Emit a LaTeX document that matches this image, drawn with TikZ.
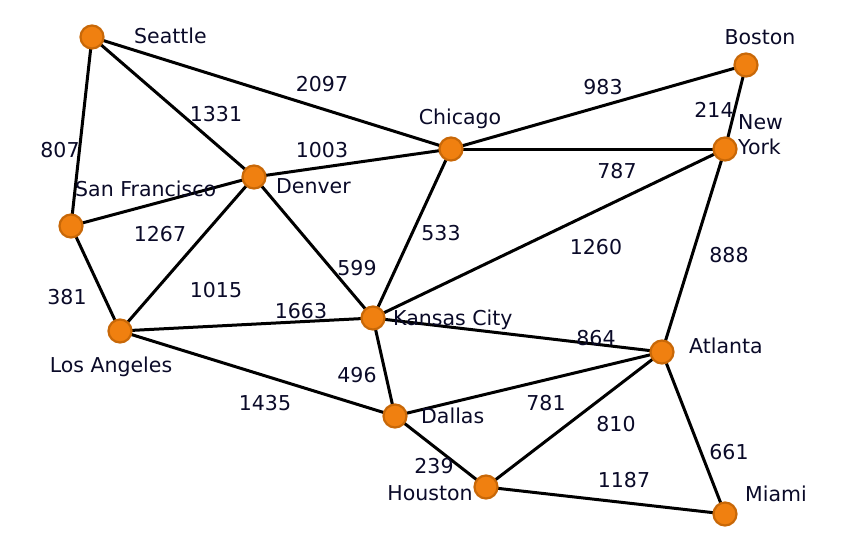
\documentclass[tikz,border=0pt]{standalone}
\usepackage{fontspec}
\setmainfont{DejaVu Sans}
\definecolor{cityfill}{HTML}{F08010}
\definecolor{cityline}{HTML}{C86808}
\definecolor{txt}{HTML}{0A0A28}
\begin{document}
\begin{tikzpicture}[x=1pt,y=-1pt,
  city/.style={circle,fill=cityfill,draw=cityline,line width=2.2pt,minimum size=23pt,inner sep=0pt},
  road/.style={line width=3pt,black},
  lbl/.style={text=txt,font=\fontsize{20.5}{25}\selectfont,inner sep=0pt},
  wt/.style={text=txt,font=\fontsize{20.5}{25}\selectfont,inner sep=0pt}]
\useasboundingbox (0,0) rectangle (847,547);
% city positions
\foreach \n/\x/\y in {sea/92/37,bos/746/65,chi/451/149,ny/725/149,den/254/177,sf/71/226,la/120/331,kc/373/318,atl/662/352,dal/395/416,hou/486/487,mia/725/514}
  \coordinate (\n) at (\x,\y);
% roads
\foreach \a/\b in {sea/sf,sea/den,sea/chi,sf/den,sf/la,la/den,la/kc,la/dal,den/chi,den/kc,chi/kc,chi/bos,chi/ny,bos/ny,ny/kc,ny/atl,kc/atl,kc/dal,dal/atl,dal/hou,hou/atl,hou/mia,atl/mia}
  \draw[road] (\a) -- (\b);
% cities on top
\foreach \n in {sea,bos,chi,ny,den,sf,la,kc,atl,dal,hou,mia}
  \node[city] (\n c) at (\n) {};
% city labels
\node[lbl,anchor=west] (tsea) at (134,36) {Seattle};
\node[lbl] (tbos) at (760,37) {Boston};
\node[lbl] (tchi) at (460,119) {Chicago};
\node[lbl,anchor=west,align=left] (tny) at (738,135) {New\\York};
\node[lbl,anchor=west] (tden) at (276,186) {Denver};
\node[lbl,anchor=west] (tsf) at (75,189) {San Francisco};
\node[lbl] (tla) at (111,367) {Los Angeles};
\node[lbl,anchor=west] (tkc) at (393,320) {Kansas City};
\node[lbl,anchor=west] (tatl) at (689,346) {Atlanta};
\node[lbl,anchor=west] (tdal) at (421,416) {Dallas};
\node[lbl] (thou) at (430,493) {Houston};
\node[lbl,anchor=west] (tmia) at (745,494) {Miami};
% weights
\node[wt] (w1) at (60,150) {807};
\node[wt] (w2) at (216,114) {1331};
\node[wt] (w3) at (322,84) {2097};
\node[wt] (w4) at (603,87) {983};
\node[wt] (w5) at (714,110) {214};
\node[wt] (w6) at (322,150) {1003};
\node[wt] (w7) at (617,171) {787};
\node[wt] (w8) at (160,234) {1267};
\node[wt] (w9) at (441,233) {533};
\node[wt] (w10) at (596,247) {1260};
\node[wt] (w11) at (729,255) {888};
\node[wt] (w12) at (67,297) {381};
\node[wt] (w13) at (216,290) {1015};
\node[wt] (w14) at (357,268) {599};
\node[wt] (w15) at (301,311) {1663};
\node[wt] (w16) at (596,338) {864};
\node[wt] (w17) at (357,375) {496};
\node[wt] (w18) at (265,403) {1435};
\node[wt] (w19) at (546,403) {781};
\node[wt] (w20) at (616,424) {810};
\node[wt] (w21) at (434,466) {239};
\node[wt] (w22) at (624,480) {1187};
\node[wt] (w23) at (729,452) {661};
\end{tikzpicture}
\end{document}
